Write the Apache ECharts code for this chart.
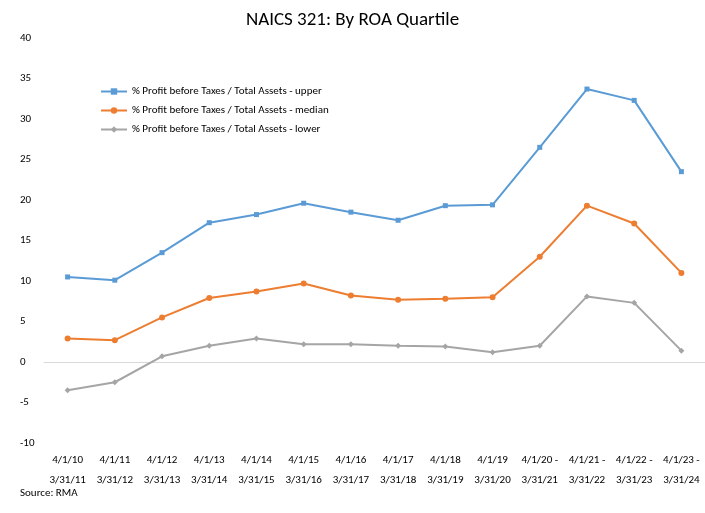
<!DOCTYPE html>
<html><head><meta charset="utf-8">
<script src="https://cdn.jsdelivr.net/npm/echarts@6/dist/echarts.min.js"></script>
<style>html,body{margin:0;padding:0;background:#fff}#c{width:705px;height:513px}</style>
</head><body><div id="c"></div>
<script>
var periods = ['4/1/10\n3/31/11','4/1/11\n3/31/12','4/1/12\n3/31/13','4/1/13\n3/31/14','4/1/14\n3/31/15','4/1/15\n3/31/16','4/1/16\n3/31/17','4/1/17\n3/31/18','4/1/18\n3/31/19','4/1/19\n3/31/20','4/1/20 -\n3/31/21','4/1/21 -\n3/31/22','4/1/22 -\n3/31/23','4/1/23 -\n3/31/24'];
var upper  = [10.5,10.1,13.5,17.2,18.2,19.6,18.5,17.5,19.3,19.4,26.5,33.7,32.3,23.5];
var median = [2.9,2.7,5.5,7.9,8.7,9.7,8.2,7.7,7.8,8.0,13.0,19.3,17.1,11.0];
var lower  = [-3.5,-2.5,0.7,2.0,2.9,2.2,2.2,2.0,1.9,1.2,2.0,8.1,7.3,1.4];
var names = ['% Profit before Taxes / Total Assets - upper','% Profit before Taxes / Total Assets - median','% Profit before Taxes / Total Assets - lower'];
var font = 'Calibri, Carlito, "Liberation Sans", sans-serif';
var chart = echarts.init(document.getElementById('c'));
function ser(name, data, color, symbol){
  return {name:name,type:'line',data:data,symbol:symbol,symbolSize:symbol==='rect'?5:6,
    lineStyle:{color:color,width:2},itemStyle:{color:color},animation:false};
}
chart.setOption({
  textStyle:{fontFamily:font},
  title:{text:'NAICS 321: By ROA Quartile',left:'center',top:6,textStyle:{fontSize:19,fontWeight:'normal',color:'#000',fontFamily:font}},
  legend:{orient:'vertical',left:95,top:81,itemGap:8,itemWidth:26,itemHeight:8,
    textStyle:{fontSize:11,color:'#000'},data:names},
  grid:{left:44,right:-13,top:38,bottom:70,containLabel:false},
  xAxis:{type:'category',data:periods,boundaryGap:true,
    axisLine:{onZero:true,lineStyle:{color:'#d9d9d9'}},axisTick:{show:false},
    axisLabel:{color:'#000',fontSize:11,interval:0,lineHeight:20,margin:7}},
  yAxis:{type:'value',min:-10,max:40,interval:5,splitLine:{show:false},
    axisLine:{show:false},axisTick:{show:false},
    axisLabel:{color:'#000',fontSize:11,margin:24,align:'left'}},
  series:[ser(names[0],upper,'#5b9bd5','rect'),ser(names[1],median,'#ed7d31','circle'),ser(names[2],lower,'#a5a5a5','diamond')],
  graphic:[{type:'text',left:20,top:488,style:{text:'Source: RMA',fontSize:11,fill:'#000',fontFamily:font}}]
});
</script></body></html>
